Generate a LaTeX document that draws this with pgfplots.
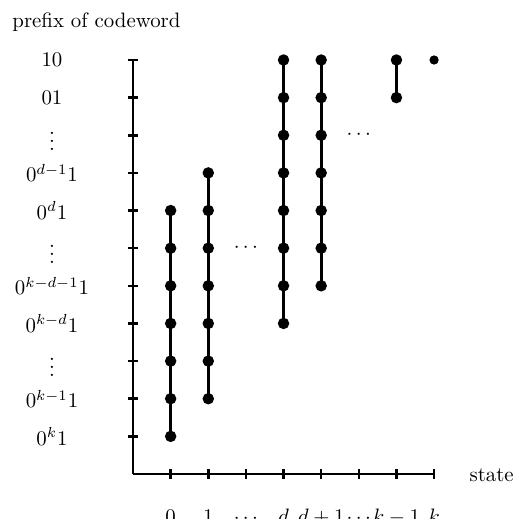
\documentclass[border=0pt]{standalone}
\usepackage{pgfplots}
\pgfplotsset{compat=1.18}
\begin{document}
\begin{tikzpicture}
\begin{axis}[
  scale only axis,
  width=144.5pt, height=198.7pt,
  xmin=0, xmax=8, ymin=0, ymax=11,
  axis lines*=left,
  axis line style={line width=1.4pt,-},
  clip=false,
  xtick={1,...,8},
  ytick={1,...,11},
  xticklabels={$0$,$1$,$\cdots$,$d$,$d+1$,$\cdots$,$k-1$,$k$},
  yticklabels={$0^k1$,$0^{k-1}1$,$\vdots$,$0^{k-d}1$,$0^{k-d-1}1$,$\vdots$,$0^d1$,$0^{d-1}1$,$\vdots$,$01$,$10$},
  tick align=center,
  major tick length=4.8pt,
  tick style={line width=1.2pt,black},
  xticklabel style={anchor=north,text height=7pt,yshift=-10.8pt},
  yticklabel style={anchor=center,xshift=-36.5pt},
]
\addplot[black,line width=1.4pt,mark=*,mark size=2pt] coordinates {(1,1)(1,2)(1,3)(1,4)(1,5)(1,6)(1,7)};
\addplot[black,line width=1.4pt,mark=*,mark size=2pt] coordinates {(2,2)(2,3)(2,4)(2,5)(2,6)(2,7)(2,8)};
\addplot[black,line width=1.4pt,mark=*,mark size=2pt] coordinates {(4,4)(4,5)(4,6)(4,7)(4,8)(4,9)(4,10)(4,11)};
\addplot[black,line width=1.4pt,mark=*,mark size=2pt] coordinates {(5,5)(5,6)(5,7)(5,8)(5,9)(5,10)(5,11)};
\addplot[black,line width=1.4pt,mark=*,mark size=2pt] coordinates {(7,10)(7,11)};
\addplot[black,only marks,mark=*,mark size=2pt] coordinates {(8,11)};
\node at (axis cs:3,6) {$\cdots$};
\node at (axis cs:6,9) {$\cdots$};
\node[anchor=base west,xshift=13.5pt,yshift=-3.84pt] at (rel axis cs:1,0) {state};
\node[anchor=base west,xshift=-61.4pt,yshift=15.8pt] at (rel axis cs:0,1) {prefix of codeword};
\coordinate (bl) at (axis cs:-3.535,-1.196);
\coordinate (tr) at (axis cs:10.18,12.594);
\end{axis}
\pgfresetboundingbox
\path (bl) rectangle (tr);
\end{tikzpicture}
\end{document}
